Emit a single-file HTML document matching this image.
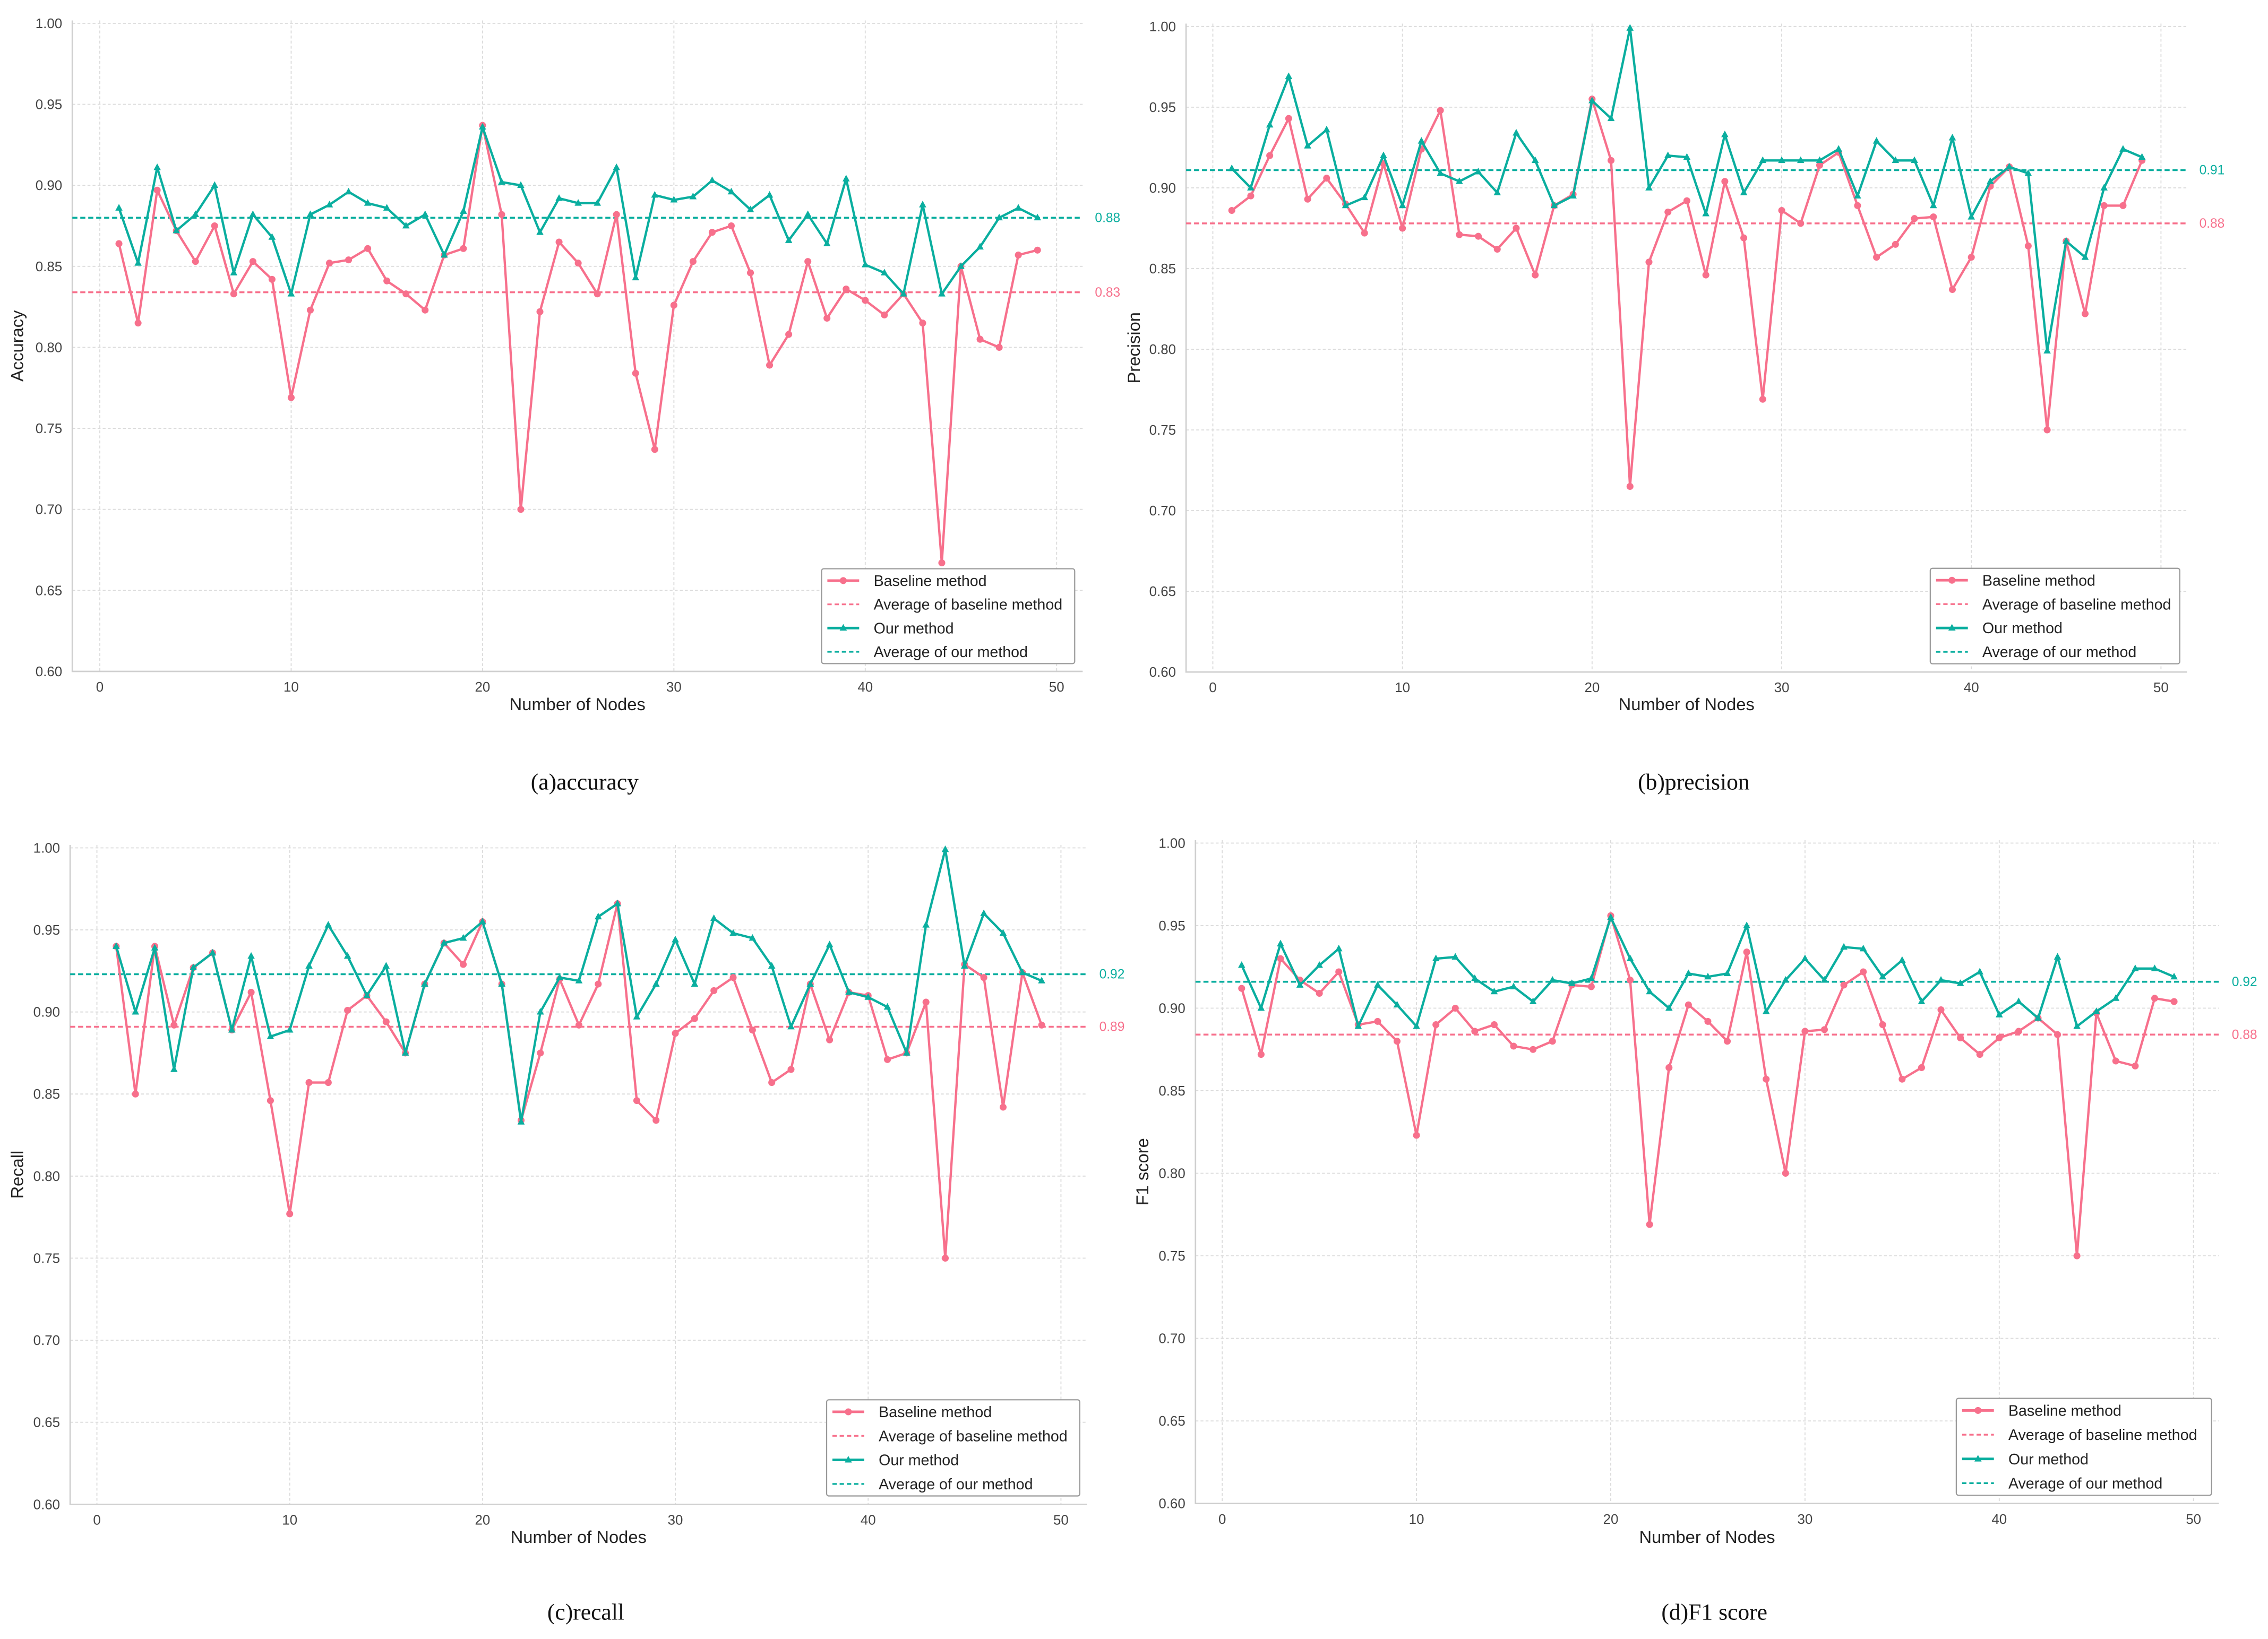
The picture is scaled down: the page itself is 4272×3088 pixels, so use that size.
<!DOCTYPE html>
<html><head><meta charset="utf-8">
<style>
html,body{margin:0;padding:0;background:#fff;}
svg{display:block;font-family:"Liberation Sans",Arial,sans-serif;}
</style></head>
<body>
<svg id="fig" width="4272" height="3088" viewBox="0 0 1568 1133.4" xmlns="http://www.w3.org/2000/svg">
<rect width="1568" height="1133.4" fill="#fff"/>
</svg>
<script>
const nodes = Array.from({length:49},(_,i)=>i+1);
const accBase = [0.864,0.815,0.897,0.872,0.853,0.875,0.833,0.853,0.842,0.769,0.823,0.852,0.854,0.861,0.841,0.833,0.823,0.857,0.861,0.937,0.882,0.700,0.822,0.865,0.852,0.833,0.882,0.784,0.737,0.826,0.853,0.871,0.875,0.846,0.789,0.808,0.853,0.818,0.836,0.829,0.820,0.833,0.815,0.667,0.850,0.805,0.800,0.857,0.860];
const accOurs = [0.886,0.852,0.911,0.872,0.882,0.900,0.846,0.882,0.868,0.833,0.882,0.888,0.896,0.889,0.886,0.875,0.882,0.857,0.884,0.936,0.902,0.900,0.871,0.892,0.889,0.889,0.911,0.843,0.894,0.891,0.893,0.903,0.896,0.885,0.894,0.866,0.882,0.864,0.904,0.851,0.846,0.833,0.888,0.833,0.850,0.862,0.880,0.886,0.880];
const accAvg = [0.834,0.880];
const accAvgLabels = ["0.83","0.88"];
const preBase = [0.886,0.895,0.920,0.943,0.893,0.906,0.890,0.872,0.915,0.875,0.924,0.948,0.871,0.870,0.862,0.875,0.846,0.889,0.896,0.955,0.917,0.715,0.854,0.885,0.892,0.846,0.904,0.869,0.769,0.886,0.878,0.914,0.922,0.889,0.857,0.865,0.881,0.882,0.837,0.857,0.901,0.913,0.864,0.750,0.867,0.822,0.889,0.889,0.917];
const preOurs = [0.912,0.900,0.939,0.969,0.926,0.936,0.889,0.894,0.920,0.889,0.929,0.909,0.904,0.910,0.897,0.934,0.917,0.889,0.895,0.954,0.943,0.999,0.900,0.920,0.919,0.884,0.933,0.897,0.917,0.917,0.917,0.917,0.924,0.895,0.929,0.917,0.917,0.889,0.931,0.882,0.904,0.913,0.909,0.799,0.867,0.857,0.900,0.924,0.919];
const preAvg = [0.878,0.911];
const preAvgLabels = ["0.88","0.91"];
const recBase = [0.940,0.850,0.940,0.892,0.927,0.936,0.889,0.912,0.846,0.777,0.857,0.857,0.901,0.910,0.894,0.875,0.917,0.942,0.929,0.955,0.917,0.834,0.875,0.920,0.892,0.917,0.966,0.846,0.834,0.887,0.896,0.913,0.921,0.889,0.857,0.865,0.917,0.883,0.912,0.910,0.871,0.875,0.906,0.750,0.929,0.921,0.842,0.924,0.892];
const recOurs = [0.940,0.900,0.939,0.865,0.927,0.936,0.889,0.934,0.885,0.889,0.928,0.953,0.934,0.910,0.928,0.875,0.917,0.942,0.945,0.955,0.917,0.833,0.900,0.921,0.919,0.958,0.966,0.897,0.917,0.944,0.917,0.957,0.948,0.945,0.928,0.891,0.917,0.941,0.912,0.909,0.903,0.875,0.953,0.999,0.928,0.960,0.948,0.924,0.919];
const recAvg = [0.891,0.923];
const recAvgLabels = ["0.89","0.92"];
const f1Base = [0.912,0.872,0.930,0.917,0.909,0.922,0.890,0.892,0.880,0.823,0.890,0.900,0.886,0.890,0.877,0.875,0.880,0.914,0.913,0.956,0.917,0.769,0.864,0.902,0.892,0.880,0.934,0.857,0.800,0.886,0.887,0.914,0.922,0.890,0.857,0.864,0.899,0.882,0.872,0.882,0.886,0.894,0.884,0.750,0.897,0.868,0.865,0.906,0.904];
const f1Ours = [0.926,0.900,0.939,0.914,0.926,0.936,0.889,0.914,0.902,0.889,0.930,0.931,0.918,0.910,0.913,0.904,0.917,0.915,0.918,0.955,0.930,0.910,0.900,0.921,0.919,0.921,0.950,0.898,0.917,0.930,0.917,0.937,0.936,0.919,0.929,0.904,0.917,0.915,0.922,0.896,0.904,0.894,0.931,0.889,0.898,0.906,0.924,0.924,0.919];
const f1Avg = [0.884,0.916];
const f1AvgLabels = ["0.88","0.92"];
const yTicks = [0.60,0.65,0.70,0.75,0.80,0.85,0.90,0.95,1.00];
const xTicks = [0,10,20,30,40,50];

const PINK="#f7708c", TEAL="#0aae9f";
const svg=document.getElementById('fig');
const NS="http://www.w3.org/2000/svg";
function mk(tag,attrs,parent){const e=document.createElementNS(NS,tag);for(const k in attrs)e.setAttribute(k,attrs[k]);(parent||svg).appendChild(e);return e;}

const panels=[
 {id:'accuracy',ylab:'Accuracy',cap:'(a)accuracy',base:accBase,ours:accOurs,avg:accAvg,avgL:accAvgLabels,
  L:50,R:748.5,x0:69,x50:730.5,y100:16.1,y60:464.3,ylx:16,xly:491,capy:546,leg:[568,393.3,743,458.9],avgx:757},
 {id:'precision',ylab:'Precision',cap:'(b)precision',base:preBase,ours:preOurs,avg:preAvg,avgL:preAvgLabels,
  L:820,R:1512,x0:838.5,x50:1494,y100:18.3,y60:464.7,ylx:788,xly:491,capy:546,leg:[1334.5,393,1507,459],avgx:1520.5},
 {id:'recall',ylab:'Recall',cap:'(c)recall',base:recBase,ours:recOurs,avg:recAvg,avgL:recAvgLabels,
  L:48.5,R:751.5,x0:67,x50:733.5,y100:586.3,y60:1040.3,ylx:16,xly:1067,capy:1120,leg:[571.5,968,746.5,1034.5],avgx:760},
 {id:'f1',ylab:'F1 score',cap:'(d)F1 score',base:f1Base,ours:f1Ours,avg:f1Avg,avgL:f1AvgLabels,
  L:826.5,R:1534,x0:845,x50:1516.5,y100:583,y60:1039.7,ylx:794,xly:1067,capy:1120,leg:[1352.5,967,1529,1034],avgx:1543}
];

panels.forEach(p=>{
 const g=mk('g',{});
 
 
 const X=v=>p.x0+v*(p.x50-p.x0)/50;
 const Y=v=>p.y60+(v-0.6)*(p.y100-p.y60)/0.4;
 const top=p.y100-2, bot=p.y60;
 // grid
 yTicks.forEach(t=>{
  const l=mk('line',{x1:p.L,x2:p.R,y1:Y(t),y2:Y(t),stroke:'#dcdcdc','stroke-width':0.7,'stroke-dasharray':'2,1.5'},g);
  
  
  const tx=mk('text',{x:p.L-7,y:Y(t)+3.3,'font-size':9.5,fill:'#444','text-anchor':'end'},g);
  tx.textContent=t.toFixed(2);
  
  
 });
 xTicks.forEach(t=>{
  const l=mk('line',{x1:X(t),x2:X(t),y1:top,y2:bot,stroke:'#dcdcdc','stroke-width':0.7,'stroke-dasharray':'2,1.5'},g);
  
  
  const tx=mk('text',{x:X(t),y:bot+14,'font-size':9.5,fill:'#444','text-anchor':'middle'},g);
  tx.textContent=t;
  
  
 });
 const sp=mk('path',{d:`M${p.L},${top}V${bot}H${p.R}`,fill:'none',stroke:'#cfcfcf','stroke-width':1},g);
 
 
 // avg lines
 const cols=[PINK,TEAL];
 p.avg.forEach((a,i)=>{
  const l=mk('line',{x1:p.L,x2:p.R,y1:Y(a),y2:Y(a),stroke:cols[i],'stroke-width':1.3,'stroke-dasharray':'3.5,2'},g);
  
  
  const t=mk('text',{x:p.avgx,y:Y(a)+3,'font-size':9,fill:cols[i]},g);
  t.textContent=p.avgL[i];
  
  
 });
 // series
 [[p.base,PINK,'circle'],[p.ours,TEAL,'tri']].forEach(([arr,c,m],si)=>{
  const pts=arr.map((v,i)=>X(nodes[i]).toFixed(2)+','+Y(v).toFixed(2)).join(' ');
  const pl=mk('polyline',{points:pts,fill:'none',stroke:c,'stroke-width':1.6,'stroke-linejoin':'round'},g);
  
  
  arr.forEach((v,i)=>{
   const cx=X(nodes[i]),cy=Y(v);
   let e;
   if(m==='circle') e=mk('circle',{cx:cx,cy:cy,r:2.4,fill:c},g);
   else e=mk('path',{d:`M${cx},${cy-2.8}L${cx+2.5},${cy+1.8}L${cx-2.5},${cy+1.8}Z`,fill:c},g);
   
   
  });
 });
 // legend
 const [lx,ly,rx,by]=p.leg;
 const lg=mk('g',{},g);
 
 
 mk('rect',{x:lx,y:ly,width:rx-lx,height:by-ly,fill:'#fff',stroke:'#999','stroke-width':0.8,rx:1.5},lg);
 const labels=['Baseline method','Average of baseline method','Our method','Average of our method'];
 const rh=(by-ly)/4;
 labels.forEach((s,i)=>{
  const yy=ly+rh*(i+0.5);
  const c=i<2?PINK:TEAL;
  const dashed=i%2===1;
  mk('line',{x1:lx+4,x2:lx+26,y1:yy,y2:yy,stroke:c,'stroke-width':dashed?1.2:1.8,'stroke-dasharray':dashed?'3,2':'none'},lg);
  if(i===0) mk('circle',{cx:lx+15,cy:yy,r:2.4,fill:c},lg);
  if(i===2) mk('path',{d:`M${lx+15},${yy-2.8}L${lx+17.5},${yy+1.8}L${lx+12.5},${yy+1.8}Z`,fill:c},lg);
  const t=mk('text',{x:lx+36,y:yy+3.7,'font-size':10.5,fill:'#222'},lg);
  t.textContent=s;
  
  
 });
 // axis labels
 const yl=mk('text',{x:p.ylx,y:(top+bot)/2,'font-size':12,fill:'#222','text-anchor':'middle',transform:`rotate(-90 ${p.ylx} ${(top+bot)/2})`},g);
 yl.textContent=p.ylab;
 
 
 const xl=mk('text',{x:(p.L+p.R)/2,y:p.xly,'font-size':12,fill:'#222','text-anchor':'middle'},g);
 xl.textContent='Number of Nodes';
 
 
 const cp=mk('text',{x:(p.L+p.R)/2+5,y:p.capy,'font-size':16,fill:'#111','text-anchor':'middle','font-family':'"Liberation Serif",serif'},g);
 cp.textContent=p.cap;
 
 
});
</script>
</body></html>
